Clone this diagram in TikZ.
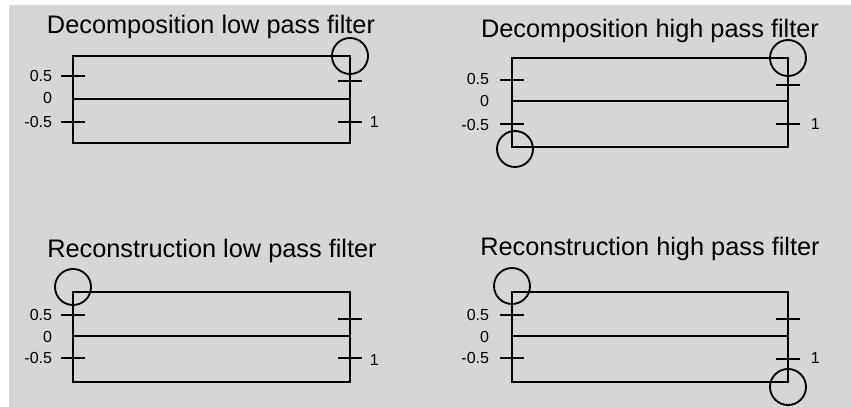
\documentclass[tikz,border=0pt]{standalone}
\usepackage{fontspec}
\setmainfont{Liberation Sans}
\definecolor{bggray}{RGB}{214,214,214}
\begin{document}
\begin{tikzpicture}[x=0.75pt,y=-0.75pt,line width=1.4pt,
  title/.style={font=\fontsize{19}{21}\selectfont, anchor=base, inner sep=0pt},
  lab/.style={font=\fontsize{12}{13}\selectfont, anchor=east, inner sep=0pt},
  rlab/.style={font=\fontsize{12}{13}\selectfont, anchor=west, inner sep=0pt},
  mark circle/.style={draw, line width=1.4pt}]
\useasboundingbox (0,0) rectangle (851,407);
\fill[white] (0,0) rectangle (851,407);
\fill[bggray] (9,5) rectangle (851,407);

% ---------- Panel 1: Decomposition low pass filter
\node[title] (t1) at (211,33) {Decomposition low pass filter};
\draw (73,56) rectangle (350,143);
\draw (73,99) -- (350,99);
\draw (61,76) -- (85,76);
\draw (61,122) -- (85,122);
\draw (338,81) -- (362,81);
\draw (338,122) -- (362,122);
\node[lab] (a1) at (53,76) {0.5};
\node[lab] (b1) at (53,98) {0};
\node[lab] (c1) at (53,122) {-0.5};
\node[rlab] (d1) at (369,122) {1};
\draw[mark circle] (350,56) circle[radius=13.5pt];

% ---------- Panel 2: Decomposition high pass filter
\node[title] (t2) at (650,37) {Decomposition high pass filter};
\draw (512,58) rectangle (788,147);
\draw (512,101) -- (788,101);
\draw (500,80) -- (524,80);
\draw (500,124) -- (524,124);
\draw (776,85) -- (800,85);
\draw (776,124) -- (800,124);
\node[lab] (a2) at (490,79) {0.5};
\node[lab] (b2) at (490,101) {0};
\node[lab] (c2) at (490,125) {-0.5};
\node[rlab] (d2) at (810,124) {1};
\draw[mark circle] (788,58) circle[radius=13.5pt];
\draw[mark circle] (515,149) circle[radius=13.5pt];

% ---------- Panel 3: Reconstruction low pass filter
\node[title] (t3) at (212,257) {Reconstruction low pass filter};
\draw (73,292) rectangle (350,382);
\draw (73,336) -- (350,336);
\draw (61,315) -- (85,315);
\draw (61,358) -- (85,358);
\draw (338,319) -- (362,319);
\draw (338,358) -- (362,358);
\node[lab] (a3) at (53,315) {0.5};
\node[lab] (b3) at (53,337) {0};
\node[lab] (c3) at (53,358) {-0.5};
\node[rlab] (d3) at (369,360) {1};
\draw[mark circle] (73,287) circle[radius=13.5pt];

% ---------- Panel 4: Reconstruction high pass filter
\node[title] (t4) at (650,255) {Reconstruction high pass filter};
\draw (512,292) rectangle (788,382);
\draw (512,336) -- (788,336);
\draw (500,315) -- (524,315);
\draw (500,358) -- (524,358);
\draw (776,319) -- (800,319);
\draw (776,359) -- (800,359);
\node[lab] (a4) at (490,315) {0.5};
\node[lab] (b4) at (490,337) {0};
\node[lab] (c4) at (490,358) {-0.5};
\node[rlab] (d4) at (810,358) {1};
\draw[mark circle] (512,286) circle[radius=13.5pt];
\draw[mark circle] (788,387) circle[radius=13.5pt];
\end{tikzpicture}
\end{document}
